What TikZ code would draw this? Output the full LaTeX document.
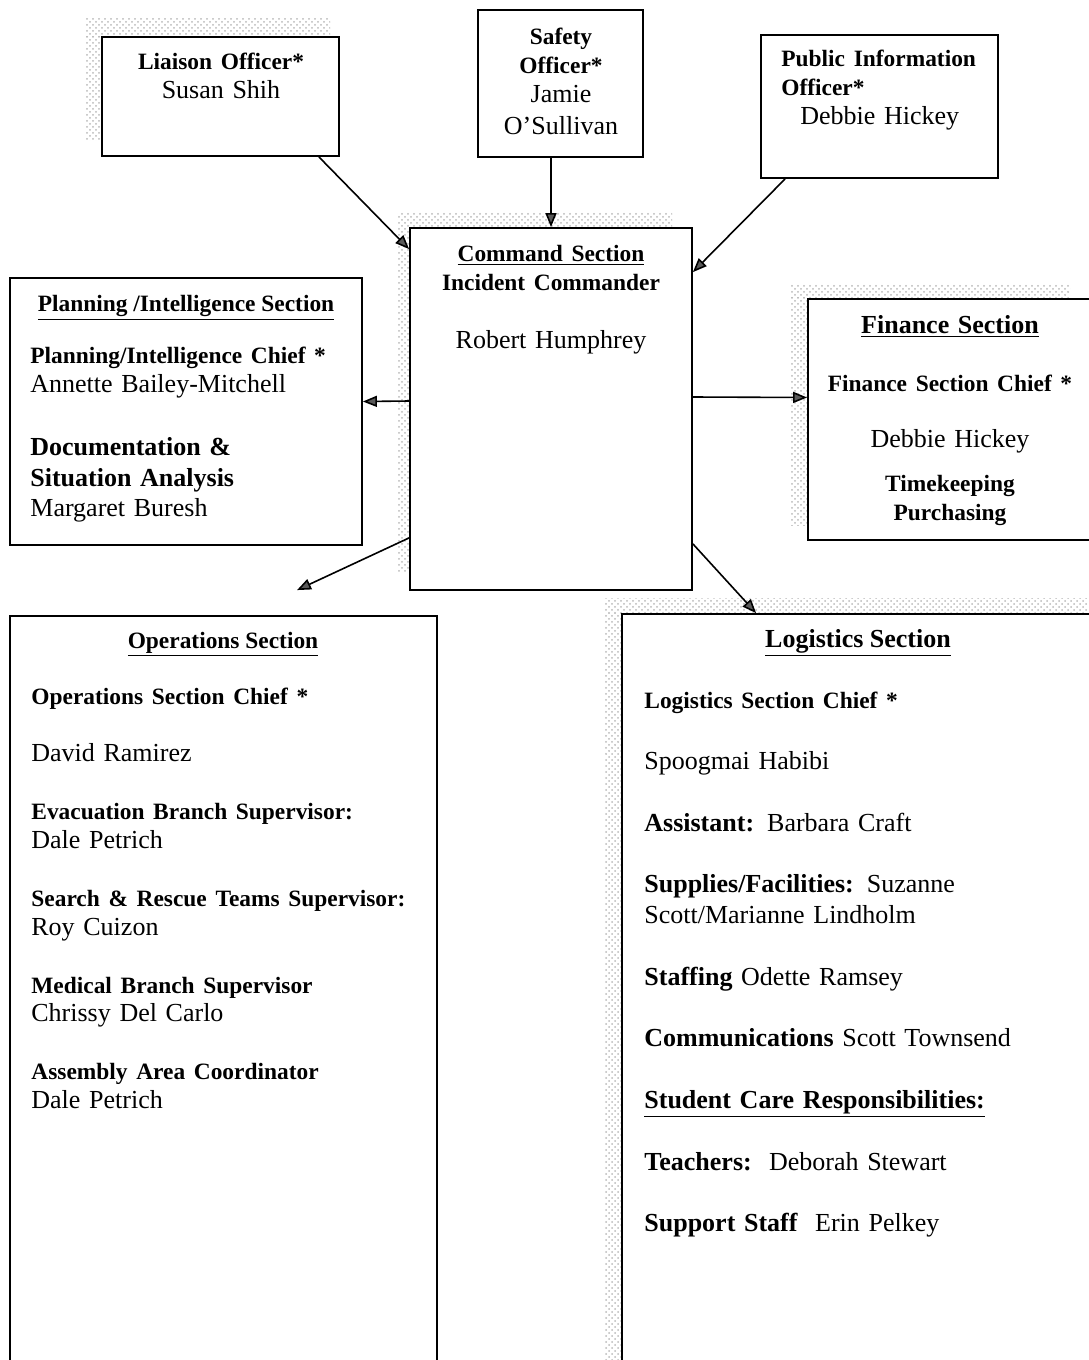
\documentclass[tikz,border=0pt]{standalone}
\usepackage{fontspec}
\setmainfont{Liberation Serif}
\usetikzlibrary{arrows.meta, positioning, fit, patterns}

\newcommand{\lbl}[1]{{\fontsize{11.7}{14}\selectfont\bfseries #1}}

\begin{document}
\begin{tikzpicture}[x=0.5pt, y=-0.5pt,
    box/.style={draw, line width=0.9pt, inner sep=0pt},
    txt/.style={inner sep=0pt, font=\fontsize{13}{14.5}\selectfont},
    arr/.style={line width=0.8pt, -{Triangle[length=7pt, width=5.5pt, fill=black!65]}},
    speck/.style={pattern=crosshatch dots, pattern color=gray!55}]

    \useasboundingbox (0,0) rectangle (1088,1360);

    %% scan shading
    \fill[speck] (85,18) rectangle (330,36);
    \fill[speck] (85,36) rectangle (101,140);
    \fill[speck] (397,212) rectangle (672,227);
    \fill[speck] (397,227) rectangle (409,572);
    \fill[speck] (790,284) rectangle (1070,297);
    \fill[speck] (790,297) rectangle (807,525);
    \fill[speck] (605,598) rectangle (1088,613);
    \fill[speck] (605,613) rectangle (621,1360);

    % Nodes
    \node[box, fit={(102,37) (339,156)}] (liaison) {};
    \node[box, fit={(478,10) (643,157)}] (safety) {};
    \node[box, fit={(761,35) (998,178)}] (pio) {};
    \node[box, fit={(410,228) (692,590)}] (cmd) {};
    \node[box, fit={(10,278) (362,545)}] (plan) {};
    \node[box, fit={(808,299) (1100,540)}] (fin) {};
    \node[box, fit={(10,616) (437,1380)}] (ops) {};
    \node[box, fit={(622,614) (1100,1380)}] (logi) {};

    % Text
    \node[txt, align=center, text width=110pt, anchor=base] (liaisontxt) at (221,69)
        {\lbl{Liaison Officer*}\\Susan Shih};
    \node[txt, align=center, text width=80pt, anchor=base] (safetytxt) at (561,44)
        {\lbl{Safety}\\\lbl{Officer*}\\Jamie\\[1.5pt]O'Sullivan};
    \node[txt, align=left, text width=115pt, anchor=base west] (piotxt) at (781,66)
        {\lbl{Public Information}\\\lbl{Officer*}\\\hspace*{9.5pt}Debbie Hickey};
    \node[txt, align=center, text width=135pt, anchor=base] (cmdtxt) at (551,261)
        {\lbl{\underline{Command Section}}\\\lbl{Incident Commander}\\[14.5pt]Robert Humphrey};
    \node[txt, anchor=base] (plantitle) at (186,311)
        {\lbl{\underline{Planning /Intelligence Section}}};
    \node[txt, align=left, text width=165pt, anchor=base west] (planbody) at (30,363)
        {\lbl{Planning/Intelligence Chief *}\\Annette Bailey-Mitchell\\[17pt]
         \textbf{Documentation \&}\\[1pt]\textbf{Situation Analysis}\\[0.5pt]Margaret Buresh};
    \node[txt, align=center, text width=135pt, anchor=base] (fintxt) at (950,333)
        {\textbf{\underline{Finance Section}}\\[14.5pt]\lbl{Finance Section Chief *}\\[13.5pt]
         Debbie Hickey\\[7.5pt]\lbl{Timekeeping}\\\lbl{Purchasing}};
    \node[txt, anchor=base] (opstitle) at (223,648) {\lbl{\underline{Operations Section}}};
    \node[txt, align=left, text width=200pt, anchor=base west,
          font=\fontsize{13}{14.45}\selectfont] (opsbody) at (31,704)
        {\lbl{Operations Section Chief *}\\[14.45pt]David Ramirez\\[14.45pt]
         \lbl{Evacuation Branch Supervisor:}\\Dale Petrich\\[14.45pt]
         \lbl{Search \& Rescue Teams Supervisor:}\\Roy Cuizon\\[14.45pt]
         \lbl{Medical Branch Supervisor}\\Chrissy Del Carlo\\[14.45pt]
         \lbl{Assembly Area Coordinator}\\Dale Petrich};
    \node[txt, anchor=base] (logititle) at (858,647) {\textbf{\underline{Logistics Section}}};
    \node[txt, align=left, text width=215pt, anchor=base west,
          font=\fontsize{13}{15.4}\selectfont] (logibody) at (644,708)
        {\lbl{Logistics Section Chief *}\\[15.4pt]Spoogmai Habibi\\[15.4pt]
         \textbf{Assistant:} Barbara Craft\\[15.4pt]
         \textbf{Supplies/Facilities:} Suzanne\\Scott/Marianne Lindholm\\[15.4pt]
         \textbf{Staffing} Odette Ramsey\\[15.4pt]
         \textbf{Communications} Scott Townsend\\[15.4pt]
         \textbf{\underline{Student Care Responsibilities:}}\\[15.4pt]
         \textbf{Teachers:}\ \ Deborah Stewart\\[15.4pt]
         \textbf{Support Staff}\ \ Erin Pelkey};

    % Connections
    \coordinate (opstip) at ([xshift=36.75pt, yshift=12.5pt]ops.north);
    \draw[arr] ([xshift=-10.5pt]liaison.south east) -- ([yshift=-11pt]cmd.north west);
    \draw[arr] (cmd.north |- safety.south) -- (cmd.north);
    \draw[arr] ([xshift=12.5pt]pio.south west) -- ([yshift=-22.5pt]cmd.north east);
    \draw[arr] ([yshift=4pt]cmd.west) -- ([yshift=5pt]plan.east);
    \draw[arr] ([yshift=6pt]cmd.east) -- ([yshift=11pt]fin.west);
    \draw[arr] ([yshift=26.5pt]cmd.south west) -- (opstip);
    \draw[arr] ([yshift=23.5pt]cmd.south east) -- ([xshift=67.5pt]logi.north west);
\end{tikzpicture}
\end{document}
